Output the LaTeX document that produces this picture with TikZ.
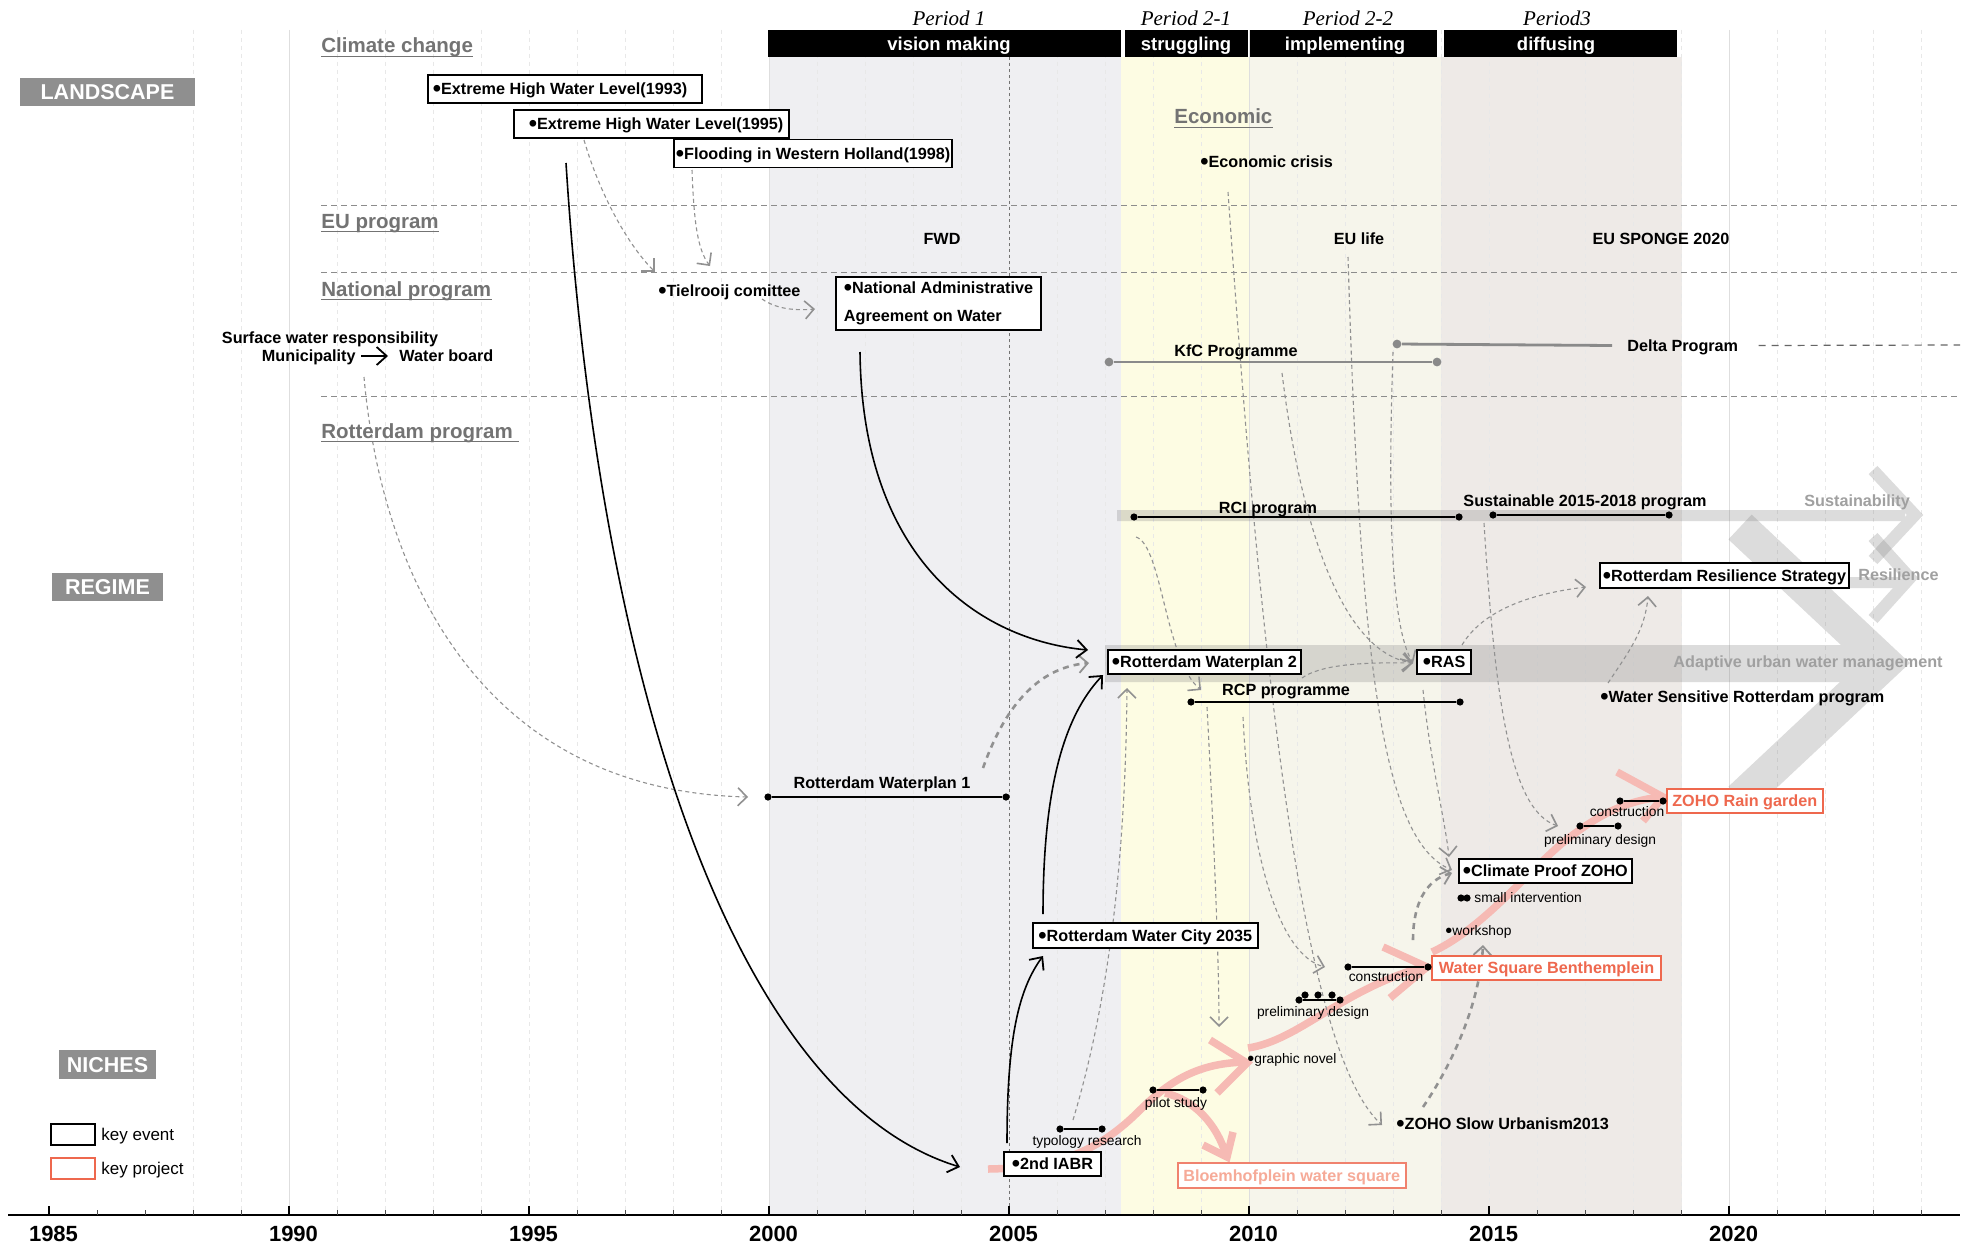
\documentclass[tikz,border=0pt]{standalone}
\usepackage{fontspec}
\setmainfont{Liberation Sans}
\newfontfamily\timesit{Liberation Serif}
\usetikzlibrary{arrows.meta}

\newcommand{\fmain}{\fontsize{8.1pt}{9.7pt}\selectfont\bfseries}
\newcommand{\fsmall}{\fontsize{6.9pt}{8.3pt}\selectfont}
\newcommand{\fsect}{\fontsize{10.25pt}{12pt}\selectfont\bfseries}
\newcommand{\flayer}{\fontsize{10.75pt}{12.9pt}\selectfont\bfseries}
\newcommand{\fhead}{\fontsize{9.25pt}{11pt}\selectfont\bfseries}
\newcommand{\fperiod}{\fontsize{10.5pt}{12pt}\selectfont\timesit\itshape}
\newcommand{\fyear}{\fontsize{11pt}{13pt}\selectfont\bfseries}
\newcommand{\flegend}{\fontsize{8.5pt}{10pt}\selectfont}
% enlarged bullet in front of event names
\newcommand{\bul}{\raisebox{-0.13em}{\scalebox{1.45}{\textbullet}}}
% fixed blank space that survives at the end of a node text
\newcommand{\gap}[1]{\rule{#1}{0pt}}

\definecolor{pone}{RGB}{239,239,242}
\definecolor{ptwoa}{RGB}{253,252,227}
\definecolor{ptwob}{RGB}{246,245,235}
\definecolor{pthree}{RGB}{238,234,231}
\definecolor{secgray}{RGB}{115,115,115}
\definecolor{tagfill}{RGB}{143,143,143}
\definecolor{projred}{RGB}{238,104,78}
\definecolor{projlight}{RGB}{246,170,152}
\definecolor{projedge}{RGB}{240,130,110}
\definecolor{swooshpink}{RGB}{246,186,180}
\definecolor{linkgray}{RGB}{145,145,145}
\definecolor{trendtext}{RGB}{160,160,160}
\definecolor{kfcgray}{RGB}{138,138,138}

\pgfdeclarelayer{back}
\pgfdeclarelayer{links}
\pgfsetlayers{back,links,main}

\begin{document}
\begin{tikzpicture}[x=0.5pt,y=-0.5pt,
  every node/.style={inner sep=0pt},
  evt/.style={draw=black,line width=0.95pt,fill=white,inner xsep=3.5pt,inner ysep=0pt,
    minimum height=12.25pt,anchor=west,font=\fmain,text height=5.8pt,text depth=0pt},
  evthi/.style={evt,minimum height=14pt},
  proj/.style={evt,draw=projred,text=projred,line width=0.8pt},
  projl/.style={evt,draw=projedge,text=projlight,line width=0.8pt},
  lbl/.style={font=\fmain,text height=5.8pt,text depth=0pt},
  sml/.style={font=\fsmall,text height=4.95pt,text depth=0pt},
  sect/.style={anchor=base west,text=secgray,font=\fsect,text depth=1.5pt},
  secline/.style={draw=secgray,line width=0.75pt},
  tag/.style={fill=tagfill,text=white,font=\flayer,text height=7.7pt,text depth=0pt},
  period/.style={anchor=base,font=\fperiod},
  phase/.style={text=white,font=\fhead,text height=6.6pt,text depth=0pt},
  trend/.style={text=trendtext,font=\fmain,text height=5.8pt,text depth=0pt,anchor=west},
  dotb/.style={circle,fill=black,minimum size=3.6pt},
  dotg/.style={circle,fill=kfcgray,minimum size=4.4pt},
  bar/.style={draw=black,line width=1.15pt},
  gbar/.style={draw=kfcgray,line width=1.4pt},
  gridmaj/.style={draw=black!13,line width=0.5pt},
  gridmin/.style={draw=black!9,line width=0.4pt,dash pattern=on 2pt off 2pt},
  fivemark/.style={draw=black!55,line width=0.5pt,dash pattern=on 1.5pt off 1.5pt},
  sepline/.style={draw=black!45,line width=0.5pt,dash pattern=on 3pt off 2pt},
  link/.style={draw=linkgray,line width=0.55pt,dash pattern=on 2pt off 1.6pt,
    -{Straight Barb[length=4.5pt,width=9pt,line width=0.8pt]}},
  linkb/.style={draw=linkgray,line width=1.3pt,dash pattern=on 3pt off 2.5pt,
    -{Straight Barb[length=4.5pt,width=9pt,line width=0.9pt]}},
  blk/.style={draw=black,line width=0.8pt,
    -{Straight Barb[length=5pt,width=9pt,line width=0.9pt]}},
  swoosh/.style={draw=swooshpink,line width=3.75pt,line join=miter},
  trendfill/.style={fill=black!50},
  trendarm/.style={draw=black!50}
]
\useasboundingbox (0,0) rectangle (1962,1247);

% ---------- background: periods, grid, bands ----------
\begin{pgfonlayer}{back}
  \fill[white] (0,0) rectangle (1962,1247);
  \fill[pone]   (769,57)  rectangle (1121,1215);
  \fill[ptwoa]  (1121,57) rectangle (1249,1215);
  \fill[ptwob]  (1249,57) rectangle (1441,1215);
  \fill[pthree] (1441,57) rectangle (1682,1215);
  \foreach \yr in {1988,...,2024}{
    \pgfmathsetmacro{\xx}{49+48*(\yr-1985)}
    \pgfmathtruncatemacro{\md}{mod(\yr,10)}
    \ifnum\md=0 \draw[gridmaj] (\xx,30) -- (\xx,1215); \else \draw[gridmin] (\xx,30) -- (\xx,1215); \fi
  }
  \draw[fivemark] (1009,57) -- (1009,1215);
  % phase header bars
  \fill[black] (768,30)  rectangle (1121,57);
  \fill[black] (1125,30) rectangle (1248,57);
  \fill[black] (1250,30) rectangle (1437,57);
  \fill[black] (1444,30) rectangle (1677,57);
  % level separators
  \draw[sepline] (321,205) -- (1960,205);
  \draw[sepline] (321,272) -- (1960,272);
  \draw[sepline] (321,396) -- (1960,396);
  % trend bands with chevrons
  \begin{scope}[transparency group,opacity=0.27]
    \fill[trendfill] (1117,510) rectangle (1905,521);
    \draw[trendarm,line width=6pt] (1873,470) -- (1915,515) -- (1873,560);
  \end{scope}
  \begin{scope}[transparency group,opacity=0.27]
    \fill[trendfill] (1840,577) rectangle (1900,588);
    \draw[trendarm,line width=6pt] (1873,537) -- (1910,578) -- (1873,619);
  \end{scope}
  \begin{scope}[transparency group,opacity=0.27]
    \fill[trendfill] (1105,645) rectangle (1880,682);
    \draw[trendarm,line width=17pt] (1740,527) -- (1885,663) -- (1740,799);
  \end{scope}
  % project pathway
  \draw[swoosh] (988,1169) .. controls (1060,1168) and (1100,1150) .. (1140,1110)
                .. controls (1175,1075) and (1205,1063) .. (1246,1062);
  \draw[swoosh] (1210,1040) -- (1247,1063) -- (1217,1093);
  \draw[swoosh] (1165,1093) .. controls (1195,1100) and (1217,1125) .. (1226,1155);
  \draw[swoosh] (1203,1145) -- (1227,1157) -- (1233,1132);
  \draw[swoosh] (1248,1048) .. controls (1300,1040) and (1340,990) .. (1426,966);
  \draw[swoosh] (1383,947) -- (1427,967) -- (1390,998);
  \draw[swoosh] (1432,952) .. controls (1480,930) and (1520,880) .. (1560,845)
                .. controls (1600,812) and (1630,800) .. (1662,797);
  \draw[swoosh] (1617,772) -- (1663,797) -- (1643,821);
\end{pgfonlayer}

% ---------- headers ----------
\node[period] (pt1)  at (949,26)  {Period 1};
\node[period] (pt21) at (1186,26) {Period 2-1};
\node[period] (pt22) at (1348,26) {Period 2-2};
\node[period] (pt3)  at (1557,26) {Period3};
\node[phase] (ph1)  at (949,44)  {vision making};
\node[phase] (ph21) at (1186,44) {struggling};
\node[phase] (ph22) at (1345,44) {implementing};
\node[phase] (ph3)  at (1556,44) {diffusing};

\node[tag,minimum width=87.5pt,minimum height=14pt] (landscape) at (107.5,92) {LANDSCAPE};
\node[tag,minimum width=55.5pt,minimum height=14pt] (regime) at (107.5,587) {REGIME};
\node[tag,minimum width=48.5pt,minimum height=14.5pt] (niches) at (107.5,1064.5) {NICHES};

\node[sect] (sclim) at (321,53)  {Climate change};
\node[sect] (seu)   at (321,228) {EU program};
\node[sect] (snat)  at (321,296) {National program};
\node[sect] (srot)  at (321,438) {Rotterdam program\gap{3pt}};
\node[sect] (secon) at (1174,124) {Economic};
\foreach \s in {sclim,seu,snat,srot,secon}{\draw[secline] (\s.south west) -- (\s.south east);}

% ---------- landscape ----------
\node[evthi,inner xsep=2.5pt] (ehwl93) at (427,89) {\bul Extreme High Water Level(1993)\gap{5pt}};
\node[evthi,inner xsep=3pt] (ehwl95) at (513,124) {\gap{4.5pt}\bul Extreme High Water Level(1995)};
\node[evthi,inner xsep=1pt] (flood98) at (673,153.5) {\bul Flooding in Western Holland(1998)};
\node[lbl,anchor=west] (ecocrisis) at (1200,162) {\bul Economic crisis};

% ---------- EU and national programmes ----------
\node[lbl] (fwd)    at (942,238.5)  {FWD};
\node[lbl] (eulife) at (1359,238.5) {EU life};
\node[lbl] (sponge) at (1661,238.5) {EU SPONGE 2020};
\node[lbl,anchor=west] (tielrooij) at (658,291) {\bul Tielrooij comittee};
\node[draw=black,line width=0.95pt,fill=white,anchor=west,inner xsep=4pt,inner ysep=0pt,
      minimum height=26.5pt,align=left,font=\fmain] (natadmin) at (835,303.5)
      {\bul National Administrative\\[4.3pt]Agreement on Water};
\node[lbl] (swr) at (330,337.5) {Surface water responsibility};
\node[lbl,anchor=east] (muni) at (356,356) {Municipality};
\node[lbl,anchor=west] (wboard) at (399,356) {Water board};
\draw[blk] ([xshift=2.5pt]muni.east) -- ([xshift=-5.5pt]wboard.west);

\node[dotg] (kfcL) at (1109,362) {};
\node[dotg] (kfcR) at (1437,362) {};
\draw[gbar] (kfcL) -- (kfcR);
\node[lbl] (kfc) at (1236,351) {KfC Programme};
\node[dotg] (deltaL) at (1397,344) {};
\node[lbl,anchor=west] (delta) at (1627,345.5) {Delta Program};
\draw[gbar] (deltaL) -- ([xshift=-7.5pt]delta.west);
\coordinate (deltaEnd) at (1960,345);
\draw[draw=black!60,line width=0.6pt,dash pattern=on 3.5pt off 3pt] ([xshift=10pt]delta.east) -- (deltaEnd);

% ---------- Rotterdam programme ----------
\node[dotb] (rciL) at (1134,517) {};
\node[dotb] (rciR) at (1459,517) {};
\draw[bar] (rciL) -- (rciR);
\node[lbl] (rci) at (1268,507.5) {RCI program};
\node[dotb] (susL) at (1493,515) {};
\node[dotb] (susR) at (1669,515) {};
\draw[bar] (susL) -- (susR);
\node[lbl] (sus) at (1585,501) {Sustainable 2015-2018 program};
\node[dotb] (rcpL) at (1191,702) {};
\node[dotb] (rcpR) at (1460,702) {};
\draw[bar] (rcpL) -- (rcpR);
\node[lbl] (rcp) at (1286,690) {RCP programme};
\node[dotb] (wp1L) at (768,797) {};
\node[dotb] (wp1R) at (1006,797) {};
\draw[bar] (wp1L) -- (wp1R);
\node[lbl] (wp1) at (882,783) {Rotterdam Waterplan 1};

\node[evt,inner xsep=1.5pt] (rrs) at (1599,575.5) {\bul Rotterdam Resilience Strategy};
\node[evt,inner xsep=2pt] (wp2) at (1107,662) {\bul Rotterdam Waterplan 2};
\node[evt,inner xsep=3pt] (ras) at (1416,662) {\bul RAS};
\node[lbl,anchor=west] (wsr) at (1600,697) {\bul Water Sensitive Rotterdam program};

\node[trend] (tsus)  at (1804,500.5) {Sustainability};
\node[trend] (tres)  at (1858,574.5) {Resilience};
\node[trend] (tauwm) at (1673,662)   {Adaptive urban water management};

% ---------- niches ----------
\node[evt,inner xsep=2pt] (cpz) at (1458,871) {\bul Climate Proof ZOHO};
\node[evt,inner xsep=2.75pt] (wc) at (1032,935.5) {\bul Rotterdam Water City 2035};
\node[evt,inner xsep=4pt] (iabr) at (1003,1164) {\bul 2nd IABR};
\node[proj] (wsb) at (1431,968) {Water Square Benthemplein};
\node[proj,inner xsep=2.75pt] (zrg) at (1666,801) {ZOHO Rain garden};
\node[projl,inner xsep=2.75pt] (bloem) at (1177,1175.5) {Bloemhofplein water square};
\node[lbl,anchor=west] (slow) at (1396,1124) {\bul ZOHO Slow Urbanism2013};

\node[dotb] (zcL) at (1620,801) {};
\node[dotb] (zcR) at (1663,801) {};
\draw[bar] (zcL) -- (zcR);
\node[sml] (zcon) at (1627,812) {construction};
\node[dotb] (zpL) at (1580,826) {};
\node[dotb] (zpR) at (1618,826) {};
\draw[bar] (zpL) -- (zpR);
\node[sml] (zpre) at (1600,840) {preliminary design};

\node[dotb] (smA) at (1461,898) {};
\node[dotb] (smB) at (1467,898) {};
\node[sml,anchor=west] (small) at (1474,898) {small intervention};
\node[sml,anchor=west] (workshop) at (1445,931) {\bul workshop};

\node[dotb] (wcL) at (1348,967) {};
\node[dotb] (wcR) at (1428,967) {};
\draw[bar] (wcL) -- (wcR);
\node[sml] (wcon) at (1386,977) {construction};
\node[dotb] (wpL) at (1299,1000) {};
\node[dotb] (wpR) at (1340,1000) {};
\draw[bar] (wpL) -- (wpR);
\node[dotb] (wpa) at (1305,995) {};
\node[dotb] (wpb) at (1318,995) {};
\node[dotb] (wpc) at (1332,995) {};
\node[sml] (wpre) at (1313,1012) {preliminary design};

\node[sml,anchor=west] (gnovel) at (1247,1059) {\bul graphic novel};
\node[dotb] (plL) at (1153,1090) {};
\node[dotb] (plR) at (1203,1090) {};
\draw[bar] (plL) -- (plR);
\node[sml] (pilot) at (1176,1103) {pilot study};
\node[dotb] (tyL) at (1060,1129) {};
\node[dotb] (tyR) at (1102,1129) {};
\draw[bar] (tyL) -- (tyR);
\node[sml] (typo) at (1087,1141) {typology research};

% ---------- legend ----------
\node[draw=black,line width=0.8pt,minimum width=22pt,minimum height=10.5pt] (legev) at (73,1134.5) {};
\node[draw=projred,line width=0.8pt,minimum width=22pt,minimum height=10.5pt] (legpr) at (73,1168.5) {};
\node[font=\flegend,anchor=west,text height=6.1pt,text depth=0pt] (legevt) at (101,1134) {key event};
\node[font=\flegend,anchor=west,text height=6.1pt,text depth=0pt] (legprt) at (101,1168) {key project};

% ---------- time axis ----------
\draw[line width=0.8pt] (8,1215) -- (1960,1215);
\foreach \yr in {1985,...,2024}{
  \pgfmathsetmacro{\xx}{49+48*(\yr-1985)}
  \draw[line width=0.4pt,black!70] (\xx,1210) -- (\xx,1215);
}
\foreach \yr in {1985,1990,...,2020}{
  \pgfmathsetmacro{\xx}{49+48*(\yr-1985)}
  \draw[line width=0.6pt] (\xx,1206) -- (\xx,1215);
  \node[font=\fyear,text height=7.9pt,text depth=0pt] (yr\yr) at (\xx+4.5,1233.5) {\yr};
}

% ---------- influence links ----------
\coordinate (a95) at (584,140);    \coordinate (tA) at (655,272);
\coordinate (a98) at (692,170);    \coordinate (tB) at (710,266);
\coordinate (aTi) at (762,299);    \coordinate (nA) at (815,309);
\coordinate (aSW) at (364,377);    \coordinate (w1A) at (748,797);
\coordinate (aW1) at (983,768);    \coordinate (w2A) at (1089,663);
\coordinate (aTy) at (1073,1120);  \coordinate (w2B) at (1127,688);
\coordinate (aRCI) at (1136,537);  \coordinate (rcpA) at (1201,690);
\coordinate (aEco) at (1228,192);  \coordinate (slA) at (1382,1125);
\coordinate (aKfC) at (1282,373);  \coordinate (rasA) at (1413,663);
\coordinate (aDel) at (1393,352);  \coordinate (aW2) at (1302,678);
\coordinate (aRAS) at (1462,645);  \coordinate (rrsA) at (1586,587);
\coordinate (aRAS2) at (1423,690); \coordinate (cpzA) at (1449,857);
\coordinate (aEU) at (1348,257);   \coordinate (cpzB) at (1452,870);
\coordinate (aWSB) at (1413,940);  \coordinate (cpzC) at (1452,873);
\coordinate (aRCP) at (1243,717);  \coordinate (wsbA) at (1325,967);
\coordinate (aRCP2) at (1207,707); \coordinate (gnA) at (1219,1027);
\coordinate (aSus) at (1484,523);  \coordinate (zrgA) at (1558,826);
\coordinate (aWS) at (1608,683);   \coordinate (rrsB) at (1648,596);
\coordinate (aSl) at (1423,1107);  \coordinate (wsA) at (1483,945);
\coordinate (b95) at (566,163);    \coordinate (iabrA) at (960,1167);
\coordinate (bNat) at (860,352);   \coordinate (w2C) at (1088,650);
\coordinate (bIA) at (1007,1143);  \coordinate (wcA) at (1043,956);
\coordinate (bWC) at (1043,914);   \coordinate (w2D) at (1103,675);

\begin{pgfonlayer}{links}
  \draw[link] (a95) .. controls (600,195) and (628,245) .. (tA);
  \draw[link] (a98) .. controls (694,225) and (698,250) .. (tB);
  \draw[link] (aTi) .. controls (775,308) and (792,311) .. (nA);
  \draw[link] (aSW) .. controls (380,560) and (470,790) .. (w1A);
  \draw[linkb] (aW1) .. controls (1000,720) and (1030,668) .. (w2A);
  \draw[link] (aTy) .. controls (1100,1030) and (1125,900) .. (w2B);
  \draw[link] (aRCI) .. controls (1162,545) and (1165,660) .. (rcpA);
  \draw[link] (aEco) .. controls (1260,650) and (1300,1050) .. (slA);
  \draw[link] (aKfC) .. controls (1300,520) and (1340,652) .. (rasA);
  \draw[link] (aDel) .. controls (1388,500) and (1390,625) .. (rasA);
  \draw[link] (aW2) .. controls (1320,665) and (1360,662) .. (rasA);
  \draw[link] (aRAS) .. controls (1480,615) and (1520,595) .. (rrsA);
  \draw[link] (aRAS2) .. controls (1430,760) and (1445,820) .. (cpzA);
  \draw[link] (aEU) .. controls (1360,650) and (1380,840) .. (cpzB);
  \draw[linkb] (aWSB) .. controls (1413,905) and (1425,880) .. (cpzC);
  \draw[link] (aRCP) .. controls (1250,860) and (1280,955) .. (wsbA);
  \draw[link] (aRCP2) .. controls (1212,800) and (1219,950) .. (gnA);
  \draw[link] (aSus) .. controls (1495,700) and (1510,810) .. (zrgA);
  \draw[link] (aWS) .. controls (1630,650) and (1645,630) .. (rrsB);
  \draw[linkb] (aSl) .. controls (1455,1060) and (1480,1000) .. (wsA);

  \draw[blk] (b95) .. controls (600,700) and (740,1100) .. (iabrA);
  \draw[blk] (bNat) .. controls (862,560) and (980,640) .. (w2C);
  \draw[blk] (bIA) .. controls (1007,1040) and (1018,990) .. (wcA);
  \draw[blk] (bWC) .. controls (1043,800) and (1060,720) .. (w2D);
\end{pgfonlayer}
\end{tikzpicture}
\end{document}
